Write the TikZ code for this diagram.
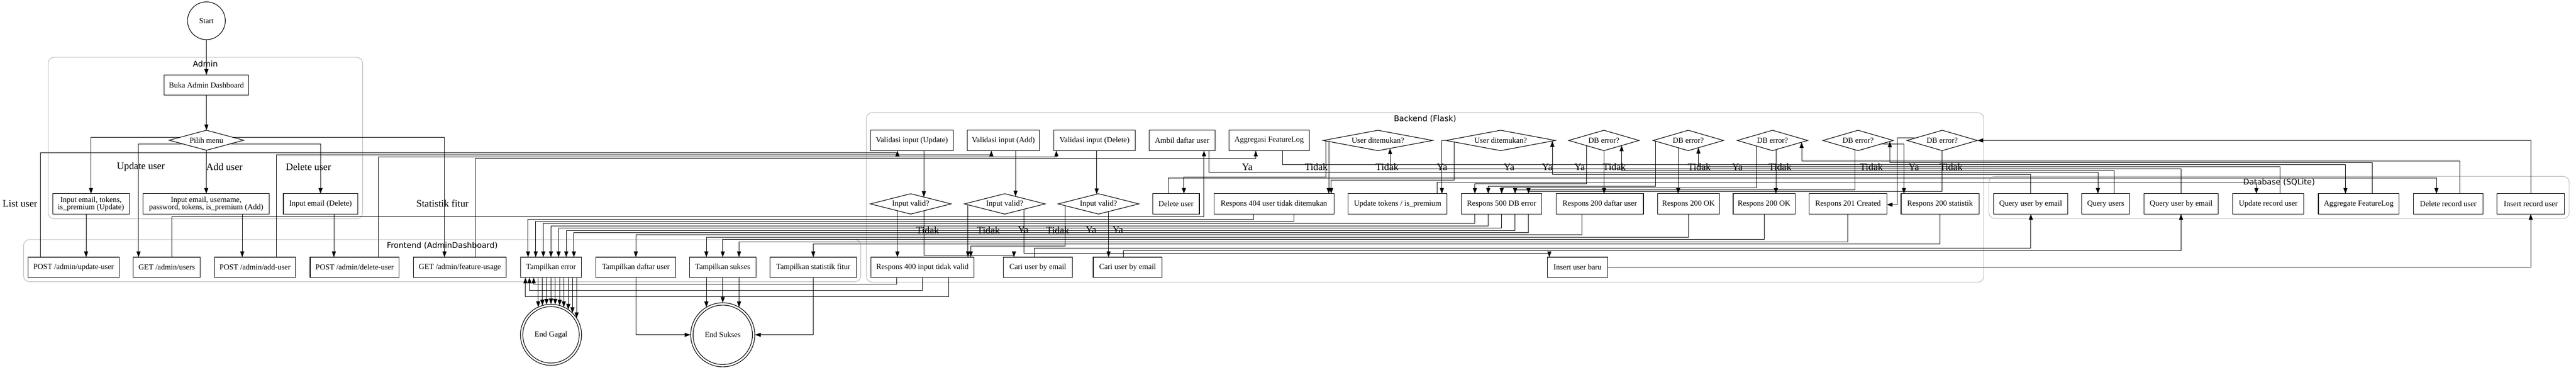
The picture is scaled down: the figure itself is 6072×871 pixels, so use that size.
\documentclass[tikz,border=0pt]{standalone}
\usepackage{fontspec}
\setmainfont{Liberation Serif}
\newfontfamily\clusterfamily{DejaVu Sans}
\usetikzlibrary{arrows.meta,shapes.geometric,calc}
\pgfdeclarelayer{bg}
\pgfsetlayers{bg,main}
\definecolor{clgray}{RGB}{190,190,190}
\newcommand{\nodefnt}{\fontsize{18.2}{16.5}\selectfont}
\newcommand{\labfnt}{\fontsize{23.5}{26}\selectfont}
\newcommand{\clusfnt}{\clusterfamily\fontsize{18.5}{20}\selectfont}
\begin{document}
\begin{tikzpicture}[x=1pt,y=-1pt,
  box/.style={draw, fill=white, line width=1.4pt, inner sep=0pt, outer sep=0pt, minimum height=48, align=center, font=\nodefnt},
  dia/.style={diamond, draw, fill=white, line width=1.4pt, inner sep=0pt, outer sep=0pt, minimum height=48, font=\nodefnt},
  e/.style={line width=1.2pt, -{Triangle[length=13.5pt,width=9.5pt]}},
  lab/.style={font=\labfnt, inner sep=0pt},
  cl/.style={draw=clgray, line width=1.4pt, rounded corners=14pt},
  cll/.style={font=\clusfnt, inner sep=0pt}]
\useasboundingbox (0,0) rectangle (6072,871);

% ---------------- nodes: Admin
\node[circle, draw, fill=white, line width=1.4pt, inner sep=0pt, minimum size=89, font=\nodefnt] (start) at (486.6,48.9) {Start};
\node[box, minimum width=199] (buka) at (486.5,200.5) {Buka Admin Dashboard};
\node[dia, minimum width=176, minimum height=47.2, shape aspect=3.73] (pilih) at (486.6,330.5) {Pilih menu};
\node[box, minimum width=181] (inupd) at (214.5,480.5) {Input email, tokens,\\is\_premium (Update)};
\node[box, minimum width=298] (inadd) at (486,480.5) {Input email, username,\\password, tokens, is\_premium (Add)};
\node[box, minimum width=175] (indel) at (755.5,480.5) {Input email (Delete)};

% ---------------- nodes: Frontend
\node[box, minimum width=215] (postupd) at (173.5,630) {POST /admin/update-user};
\node[box, minimum width=158] (getusers) at (393,630) {GET /admin/users};
\node[box, minimum width=190] (postadd) at (601,630) {POST /admin/add-user};
\node[box, minimum width=210] (postdel) at (836,630) {POST /admin/delete-user};
\node[box, minimum width=219] (getfeat) at (1084,630) {GET /admin/feature-usage};
\node[box, minimum width=144] (terr) at (1298.8,630) {Tampilkan error};
\node[box, minimum width=188] (tlist) at (1498.8,630) {Tampilkan daftar user};
\node[box, minimum width=156] (tsuk) at (1703.6,630) {Tampilkan sukses};
\node[box, minimum width=204] (tstat) at (1917,630) {Tampilkan statistik fitur};

% ---------------- end nodes
\node[circle, draw, fill=white, line width=1.4pt, inner sep=0pt, minimum size=144, font=\nodefnt] (endg) at (1298.8,789) {End Gagal};
\draw[line width=1.4pt] (endg.center) circle[radius=66.5];
\node[circle, draw, fill=white, line width=1.4pt, inner sep=0pt, minimum size=151, font=\nodefnt] (ends) at (1703.6,789) {End Sukses};
\draw[line width=1.4pt] (ends.center) circle[radius=70];

% ---------------- nodes: Backend
\node[box, minimum width=195] (valupd) at (2149.5,331) {Validasi input (Update)};
\node[box, minimum width=170] (valadd) at (2365,331) {Validasi input (Add)};
\node[box, minimum width=191] (valdel) at (2580,331) {Validasi input (Delete)};
\node[box, minimum width=155] (ambil) at (2786.3,331) {Ambil daftar user};
\node[box, minimum width=189] (aggr) at (2991.5,331) {Aggregasi FeatureLog};
\node[dia, minimum width=258, shape aspect=5.375] (ud1) at (3248,331) {User ditemukan?};
\node[dia, minimum width=258, shape aspect=5.375] (ud2) at (3537.2,331) {User ditemukan?};
\node[dia, minimum width=166, shape aspect=3.46] (db1) at (3780.6,331) {DB error?};
\node[dia, minimum width=166, shape aspect=3.46] (db2) at (3979.5,331) {DB error?};
\node[dia, minimum width=166, shape aspect=3.46] (db3) at (4178,331) {DB error?};
\node[dia, minimum width=166, shape aspect=3.46] (db4) at (4379.7,331) {DB error?};
\node[dia, minimum width=166, shape aspect=3.46] (db5) at (4578,331) {DB error?};

\node[dia, minimum width=190, shape aspect=3.96] (iv1) at (2146.7,480.5) {Input valid?};
\node[dia, minimum width=190, shape aspect=3.96] (iv2) at (2368.3,480.5) {Input valid?};
\node[dia, minimum width=190, shape aspect=3.96] (iv3) at (2589.3,480.5) {Input valid?};
\node[box, minimum width=110] (deluser) at (2772,480.5) {Delete user};
\node[box, minimum width=283] (r404) at (3002.8,480.5) {Respons 404 user tidak ditemukan};
\node[box, minimum width=233] (updtok) at (3294.4,480.5) {Update tokens / is\_premium};
\node[box, minimum width=189] (r500) at (3539.5,480.5) {Respons 500 DB error};
\node[box, minimum width=206] (r200list) at (3770.8,480.5) {Respons 200 daftar user};
\node[box, minimum width=146] (r200a) at (3979.8,480.5) {Respons 200 OK};
\node[box, minimum width=146] (r200b) at (4158.2,480.5) {Respons 200 OK};
\node[box, minimum width=183] (r201) at (4356,480.5) {Respons 201 Created};
\node[box, minimum width=184] (r200stat) at (4573,480.5) {Respons 200 statistik};

\node[box, minimum width=243] (r400) at (2174.3,630) {Respons 400 input tidak valid};
\node[box, minimum width=162] (cari1) at (2446.3,630) {Cari user by email};
\node[box, minimum width=162] (cari2) at (2657.9,630) {Cari user by email};
\node[box, minimum width=143] (insbaru) at (3718.5,630) {Insert user baru};

% ---------------- nodes: Database
\node[box, minimum width=174] (q1) at (4786.5,480.5) {Query user by email};
\node[box, minimum width=113] (qusers) at (4963.5,480.5) {Query users};
\node[box, minimum width=175] (q2) at (5141.3,480.5) {Query user by email};
\node[box, minimum width=168] (updrec) at (5346.6,480.5) {Update record user};
\node[box, minimum width=190] (aggrec) at (5559.8,480.5) {Aggregate FeatureLog};
\node[box, minimum width=164] (delrec) at (5770.8,480.5) {Delete record user};
\node[box, minimum width=159] (insrec) at (5965.3,480.5) {Insert record user};

% ---------------- cluster labels
\node[cll] at (484,150) {Admin};
\node[cll] at (1042.5,578.5) {Frontend (AdminDashboard)};
\node[cll] at (3359,280) {Backend (Flask)};
\node[cll] at (5372,430) {Database (SQLite)};

% ---------------- edge labels
\node[lab] at (332,393) {Update user};
\node[lab] at (529,393) {Add user};
\node[lab] at (727,393) {Delete user};
\node[lab] at (47,480) {List user};
\node[lab] at (1043,480) {Statistik fitur};

\node[lab] at (2186.7,542.3) {Tidak};
\node[lab] at (2330,542.3) {Tidak};
\node[lab] at (2411.7,542.3) {Ya};
\node[lab] at (2493.3,542.3) {Tidak};
\node[lab] at (2571.7,542.3) {Ya};
\node[lab] at (2634.9,542.3) {Ya};

\node[lab] at (2940,393.3) {Ya};
\node[lab] at (3102.6,393.3) {Tidak};
\node[lab] at (3269.6,393.3) {Tidak};
\node[lab] at (3399,393.3) {Ya};
\node[lab] at (3557,393.3) {Ya};
\node[lab] at (3647,393.3) {Ya};
\node[lab] at (3723.5,393.3) {Ya};
\node[lab] at (3805.5,393.3) {Tidak};
\node[lab] at (4005.5,393.3) {Tidak};
\node[lab] at (4095,393.3) {Ya};
\node[lab] at (4195.7,393.3) {Tidak};
\node[lab] at (4411,393.3) {Tidak};
\node[lab] at (4511,393.3) {Ya};
\node[lab] at (4599,393.3) {Tidak};

\begin{pgfonlayer}{bg}
% clusters
\draw[cl] (113.5,135) rectangle (854.6,515.6);
\draw[cl] (55.5,564.5) rectangle (2029,664);
\draw[cl] (2042,265.5) rectangle (4676,665);
\draw[cl] (4688,415.7) rectangle (6056,515);

% Admin edges
\draw[e] (start) -- (buka);
\draw[e] (buka) -- (pilih);
\draw[e] (pilih.center |- 0,324) -| (inupd);
\draw[e] (pilih.center |- 0,340) -| (326.5,0 |- getusers.north);
\draw[e] (pilih) -- (inadd);
\draw[e] (pilih.center |- 0,340) -| (indel);
\draw[e] (pilih.center |- 0,324) -| (1047.7,0 |- getfeat.north);
\draw[e] (203,0 |- inupd.south) -- (203,0 |- postupd.north);
\draw[e] (571,0 |- inadd.south) -- (571,0 |- postadd.north);
\draw[e] (787,0 |- indel.south) -- (787,0 |- postdel.north);

% Frontend -> Backend
\draw[e] (95.7,0 |- postupd.north) |- (2115.3,360.5) -- (2115.3,0 |- valupd.south);
\draw[e] (652,0 |- postadd.north) |- (2336.7,365) -- (2336.7,0 |- valadd.south);
\draw[e] (892.3,0 |- postdel.north) |- (2490,369.5) -- (2490,0 |- valdel.south);
\draw[e] (1120.3,0 |- getfeat.north) |- (2960,374) -- (2960,0 |- aggr.south);
\draw[e] (405,0 |- getusers.north) |- (2838,511) -- (2838,0 |- ambil.south);

% validation
\draw[e] (2177.7,0 |- valupd.south) -- ($(iv1.center)+(31,-16.2)$);
\draw[e] (2393.7,0 |- valadd.south) -- ($(iv2.center)+(25.4,-17.6)$);
\draw[e] (2585,0 |- valdel.south) -- ($(iv3.center)+(-4.3,-22.9)$);
\draw[e] (2115.3,0 |- iv1.center) -- (2115.3,0 |- r400.north);
\draw[e] (2177.7,0 |- iv1.center) |- (2390,601.7) -- (2390,0 |- cari1.north);
\draw[e] (2281.7,0 |- iv2.center) -- (2281.7,0 |- r400.north);
\draw[e] (2414,0 |- iv2.center) |- (3652,596.7) -- (3652,0 |- insbaru.north);
\draw[e] (2511,0 |- iv3.center) |- (2288.3,580) -- (2288.3,0 |- r400.north);
\draw[e] (2613,0 |- iv3.center) -- (2613,0 |- cari2.north);

% backend -> database
\draw[e] (2437.3,0 |- cari1.north) |- (4787,585.3) -- (4787,0 |- q1.south);
\draw[e] (2647.5,0 |- cari2.north) |- (5141,590.7) -- (5141,0 |- q2.south);
\draw[e] (insbaru) -| (insrec);
\draw[e] (2849.5,0 |- ambil.south) |- (4945,406.7) -- (4945,0 |- qusers.north);
\draw[e] (3023.5,0 |- aggr.south) |- (5528.5,388) -- (5528.5,0 |- aggrec.north);
\draw[e] (2753.4,0 |- deluser.north) |- (5743,420) -- (5743,0 |- delrec.north);
\draw[e] (3387.4,0 |- updtok.north) |- (5318.6,429.3) -- (5318.6,0 |- updrec.north);

% database -> backend decisions
\draw[e] (4787,0 |- q1.north) |- (3659,411) -- ($(ud2.center)+(121.8,1.3)$);
\draw[e] (5141,0 |- q2.north) |- (3276.6,397.7) -- ($(ud1.center)+(28.6,18.7)$);
\draw[e] (4983.3,0 |- qusers.north) |- (3822.4,401.7) -- ($(db1.center)+(41.8,11.9)$);
\draw[e] (5374.6,0 |- updrec.north) |- (4003.4,392.3) -- ($(db2.center)+(23.9,17.1)$);
\draw[e] (5797.7,0 |- delrec.north) |- (4246.7,379) -- ($(db3.center)+(68.7,4.1)$);
\draw[e] (5591.7,0 |- aggrec.north) |- (4454.6,383.3) -- ($(db4.center)+(74.9,2.3)$);
\draw[e] (insrec) |- (db5);

% user found decisions
\draw[e] (3125.8,0 |- ud1.center) |- (2790.6,416.7) -- (2790.6,0 |- deluser.north);
\draw[e] (3132,0 |- ud1.center) -- (3132,0 |- r404.north);
\draw[e] (ud2.west) -| (3398.7,0 |- updtok.north);
\draw[e] (3428,0 |- ud2.center) |- (3137.7,424.3) -- (3137.7,0 |- r404.north);

% DB error decisions
\draw[e] (3739.6,0 |- db1.center) |- (3476.5,433.3) -- (3476.5,0 |- r500.north);
\draw[e] (3781,0 |- db1.center) -- (3781,0 |- r200list.north);
\draw[e] (3902.3,0 |- db2.center) |- (3508,439) -- (3508,0 |- r500.north);
\draw[e] (3955.6,0 |- db2.center) -- (3955.6,0 |- r200a.north);
\draw[e] (4141,0 |- db3.center) |- (3539.7,442.7) -- (3539.7,0 |- r500.north);
\draw[e] (4186,0 |- db3.center) -- (4186,0 |- r200b.north);
\draw[e] (4372,0 |- db4.center) |- (3571.2,447) -- (3571.2,0 |- r500.north);
\draw[e] (db4.center |- 0,340) -| (4487.8,0 |- r200stat.north);
\draw[e] (db5) |- (3602.8,451) -- (3602.8,0 |- r500.north);
\draw[e] (db5.center |- 0,324.3) -| (4471.8,482.3) -- (r201.east |- 0,482.3);

% responses -> frontend
\draw[e] (2113.6,0 |- r400.south) |- (1258,669.8) -- (1258,0 |- terr.south);
\draw[e] (2174.7,0 |- r400.south) |- (1248,684.4) -- (1248,0 |- terr.south);
\draw[e] (2235.7,0 |- r400.south) |- (1238.5,698.5) -- (1238.5,0 |- terr.south);
\draw[e] (2955.5,0 |- r404.south) |- (1244.7,516.3) -- (1244.7,0 |- terr.north);
\draw[e] (3050.2,0 |- r404.south) |- (1262.7,521.7) -- (1262.7,0 |- terr.north);
\draw[e] (3476.5,0 |- r500.south) |- (1280.7,527) -- (1280.7,0 |- terr.north);
\draw[e] (3508,0 |- r500.south) |- (1298.7,532.3) -- (1298.7,0 |- terr.north);
\draw[e] (3539.7,0 |- r500.south) |- (1316.7,537.7) -- (1316.7,0 |- terr.north);
\draw[e] (3571.2,0 |- r500.south) |- (1334.7,543) -- (1334.7,0 |- terr.north);
\draw[e] (3602.8,0 |- r500.south) |- (1352.7,548.3) -- (1352.7,0 |- terr.north);
\draw[e] (3729,0 |- r200list.south) |- (1498.8,553.7) -- (1498.8,0 |- tlist.north);
\draw[e] (3980.2,0 |- r200a.south) |- (1665,559) -- (1665,0 |- tsuk.north);
\draw[e] (4158.7,0 |- r200b.south) |- (1703.6,564.3) -- (1703.6,0 |- tsuk.north);
\draw[e] (4355.7,0 |- r201.south) |- (1742,569.7) -- (1742,0 |- tsuk.north);
\draw[e] (4573,0 |- r200stat.south) |- (1917,575) -- (1917,0 |- tstat.north);

% frontend -> ends
\foreach \dx in {-30.1,-20.3,-10.5,0,9.9,20.4,30.2,40.7,50.5,60.4} {
  \pgfmathsetmacro\dy{sqrt(5184-(\dx)*(\dx))}
  \pgfmathsetmacro\xx{1298.8+\dx}
  \draw[e] (\xx,0 |- terr.south) -- ($(endg.center)+(\dx,-\dy)$);
}
\foreach \dx in {-38.6,0,38.4} {
  \pgfmathsetmacro\dy{sqrt(5700-(\dx)*(\dx))}
  \pgfmathsetmacro\xx{1703.6+\dx}
  \draw[e] (\xx,0 |- tsuk.south) -- ($(ends.center)+(\dx,-\dy)$);
}
\draw[e] (tlist) |- (ends);
\draw[e] (tstat) |- (ends);
\end{pgfonlayer}
\end{tikzpicture}
\end{document}
